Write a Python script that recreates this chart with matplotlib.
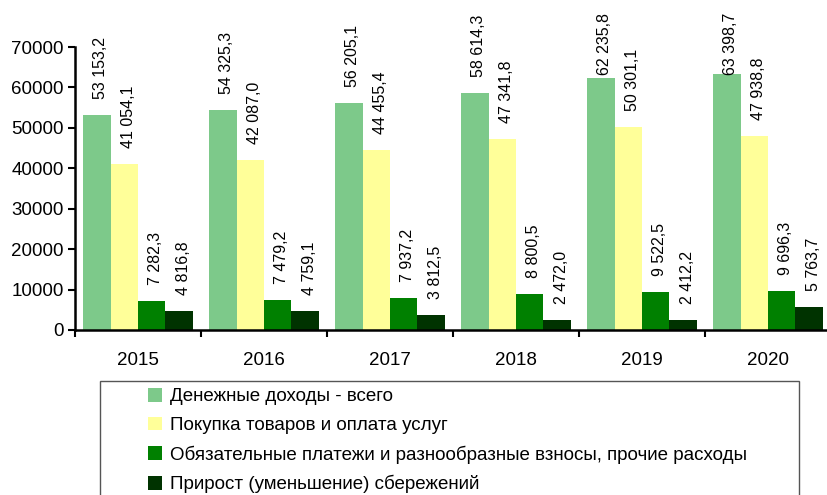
import numpy as np
import matplotlib.pyplot as plt
from matplotlib.patches import Rectangle

plt.rcParams['font.family'] = ['Liberation Sans', 'DejaVu Sans']

years = ["2015", "2016", "2017", "2018", "2019", "2020"]
income = [53153.2, 54325.3, 56205.1, 58614.3, 62235.8, 63398.7]
purchases = [41054.1, 42087.0, 44455.4, 47341.8, 50301.1, 47938.8]
payments = [7282.3, 7479.2, 7937.2, 8800.5, 9522.5, 9696.3]
savings = [4816.8, 4759.1, 3812.5, 2472.0, 2412.2, 5763.7]

series_names = [
    "Денежные доходы - всего",
    "Покупка товаров и оплата услуг",
    "Обязательные платежи и разнообразные взносы, прочие расходы",
    "Прирост (уменьшение) сбережений",
]
colors = ["#7DC98A", "#FFFF99", "#008000", "#003300"]


def fmt(v):
    s = f"{v:,.1f}"
    return s.replace(",", " ").replace(".", ",")


W, H = 827, 495
fig = plt.figure(figsize=(W / 100, H / 100), dpi=100)
ax = fig.add_axes([75 / W, 1 - 330 / H, 756 / W, 283 / H])
ax.set_xlim(-0.5, len(years) - 0.5)
ax.set_ylim(0, 70000)

x = np.arange(len(years))
bw = 0.218
label_len = 62   # px, length of a rotated value label
top_limit = H - 13  # labels never go above this (display px)
all_series = [income, purchases, payments, savings]
for i, (vals, col, name) in enumerate(zip(all_series, colors, series_names)):
    pos = x - 1.5 * bw + i * bw
    ax.bar(pos, vals, width=bw, color=col, label=name, edgecolor="none")
    for p, v in zip(pos, vals):
        y_disp = ax.transData.transform((p, v))[1]
        off_px = min(16, top_limit - label_len - y_disp)
        ax.annotate(fmt(v), (p, v), xytext=(3, off_px * 0.72), textcoords="offset points",
                    rotation=90, ha="center", va="bottom", fontsize=11.5)

ax.set_yticks(range(0, 70001, 10000))
ax.set_xticks(x)
ax.set_xticklabels(years)
ax.set_xticks(np.arange(-0.5, len(years), 1), minor=True)
ax.tick_params(axis="x", which="major", length=0, pad=16, labelsize=13.5)
ax.tick_params(axis="x", which="minor", length=5, width=1.5, direction="out")
ax.tick_params(axis="y", length=5, width=1.5, labelsize=13.5, pad=3)
for s in ["top", "right"]:
    ax.spines[s].set_visible(False)
for s in ["left", "bottom"]:
    ax.spines[s].set_linewidth(1.8)

fig.patches.append(Rectangle((100 / W, -0.05), 699 / W, 1 - 381 / H + 0.05,
                             transform=fig.transFigure, fill=False,
                             edgecolor="#555555", linewidth=1))
fig.legend(loc="upper left", bbox_to_anchor=(148 / W, 1 - 388 / H),
           frameon=False, fontsize=13.5, handlelength=0.75, handleheight=0.75,
           handletextpad=0.43, labelspacing=0.6, borderpad=0, borderaxespad=0)

fig.savefig("out.png", dpi=100)
